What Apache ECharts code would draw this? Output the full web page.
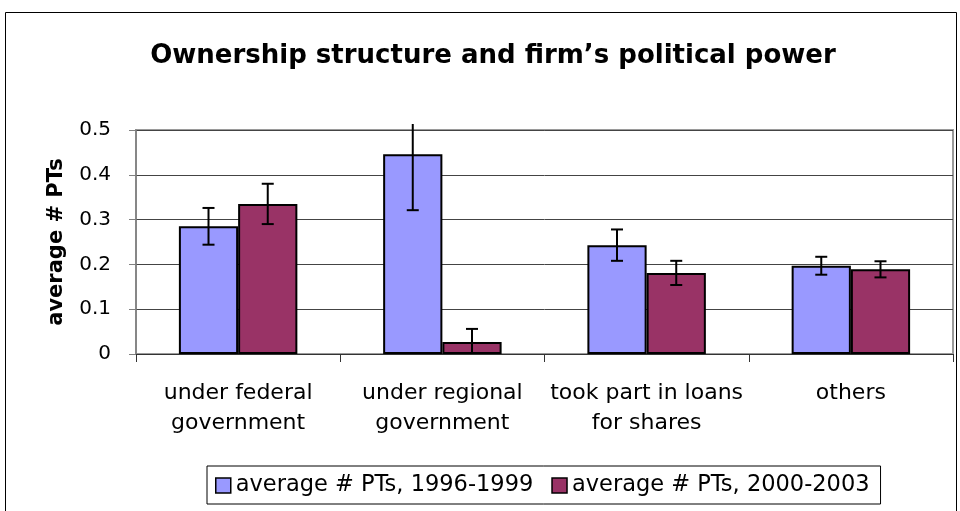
<!DOCTYPE html>
<html>
<head>
<meta charset="utf-8">
<script src="https://cdn.jsdelivr.net/npm/echarts@6/dist/echarts.min.js"></script>
<style>
html,body{margin:0;padding:0;background:#fff;}
#c{width:960px;height:511px;}
</style>
</head>
<body>
<div id="c"></div>
<script>
var categories = ['under federal\ngovernment', 'under regional\ngovernment', 'took part in loans\nfor shares', 'others'];
var seriesNames = ['average # PTs, 1996-1999', 'average # PTs, 2000-2003'];
var avg9699 = [0.285, 0.446, 0.243, 0.197];
var err9699 = [0.041, 0.125, 0.035, 0.020];
var avg0003 = [0.335, 0.027, 0.181, 0.189];
var err0003 = [0.045, 0.029, 0.027, 0.018];
var yTicks = [0, 0.1, 0.2, 0.3, 0.4, 0.5];

var FONT = 'DejaVu Sans';
var CAT_GAP = 0.42;
var Y_MIN = 0, Y_MAX = 0.5;

function errData(avg, err) {
  return avg.map(function (v, i) { return [i, v - err[i], v + err[i]]; });
}

function makeErr(seriesIndex) {
  return function (params, api) {
    var idx = api.value(0);
    var lo = api.value(1), hi = api.value(2);
    var bandW = api.size([1, 0])[0];
    var barW = bandW * (1 - CAT_GAP) / 2;
    var center = api.coord([idx, 0])[0];
    var x = seriesIndex === 0 ? center - barW / 2 : center + barW / 2;
    var loC = Math.max(lo, Y_MIN), hiC = Math.min(hi, Y_MAX);
    var yLo = api.coord([idx, loC])[1];
    var yHi = api.coord([idx, hiC])[1];
    if (hi > Y_MAX) { yHi -= 6; }
    var cap = 6;
    var style = { stroke: '#000', lineWidth: 2 };
    var children = [
      { type: 'line', shape: { x1: x, y1: yLo, x2: x, y2: yHi }, style: style }
    ];
    if (hi <= Y_MAX) children.push({ type: 'line', shape: { x1: x - cap, y1: yHi, x2: x + cap, y2: yHi }, style: style });
    if (lo >= Y_MIN) children.push({ type: 'line', shape: { x1: x - cap, y1: yLo, x2: x + cap, y2: yLo }, style: style });
    return { type: 'group', children: children };
  };
}

var chart = echarts.init(document.getElementById('c'), null, { renderer: 'canvas' });
chart.setOption({
  animation: false,
  backgroundColor: '#fff',
  textStyle: { fontFamily: FONT },
  title: {
    text: 'Ownership structure and firm\u2019s political power',
    left: 488, top: 38, textAlign: 'center',
    textStyle: { fontFamily: FONT, fontWeight: 'bold', fontSize: 26, color: '#000' }
  },
  graphic: [{
    type: 'rect', z: -1, silent: true,
    shape: { x: 5.5, y: 12.5, width: 951, height: 520 },
    style: { fill: 'none', stroke: '#000', lineWidth: 1 }
  }],
  legend: {
    data: seriesNames,
    left: 207, top: 466,
    orient: 'horizontal',
    padding: [8, 11, 7, 8],
    itemGap: 18,
    itemWidth: 15, itemHeight: 15,
    borderColor: '#000', borderWidth: 1,
    icon: 'rect',
    textStyle: { fontFamily: FONT, fontSize: 22.5, color: '#000' },
    itemStyle: { borderColor: '#000', borderWidth: 1.5 }
  },
  grid: {
    left: 136, right: 7, top: 130, bottom: 157,
    show: true, borderColor: '#9a9a9a', borderWidth: 2, backgroundColor: 'transparent'
  },
  xAxis: {
    type: 'category',
    data: categories,
    axisLine: { lineStyle: { color: '#333', width: 1 } },
    axisTick: { show: true, length: 8, lineStyle: { color: '#333' } },
    axisLabel: { fontFamily: FONT, fontSize: 22, color: '#000', lineHeight: 30, margin: 24, interval: 0 }
  },
  yAxis: {
    type: 'value',
    min: Y_MIN, max: Y_MAX, interval: 0.1,
    name: 'average # PTs',
    nameLocation: 'middle', nameGap: 69, nameRotate: 90,
    nameTextStyle: { fontFamily: FONT, fontWeight: 'bold', fontSize: 21, color: '#000' },
    axisLine: { show: true, lineStyle: { color: '#808080', width: 1.5 } },
    axisTick: { show: true, length: 7, lineStyle: { color: '#808080' } },
    axisLabel: {
      fontFamily: FONT, fontSize: 20, color: '#000', margin: 25,
      formatter: function (v) {
        var t = yTicks.filter(function (k) { return Math.abs(k - v) < 1e-9; });
        return t.length ? String(t[0]) : '';
      }
    },
    splitLine: { show: true, lineStyle: { color: '#444', width: 1 } }
  },
  series: [
    {
      name: seriesNames[0], type: 'bar', data: avg9699,
      barGap: '0%', barCategoryGap: (CAT_GAP * 100) + '%',
      itemStyle: { color: '#9999FF', borderColor: '#000', borderWidth: 2 }
    },
    {
      name: seriesNames[1], type: 'bar', data: avg0003,
      barGap: '0%', barCategoryGap: (CAT_GAP * 100) + '%',
      itemStyle: { color: '#993366', borderColor: '#000', borderWidth: 2 }
    },
    {
      type: 'custom', renderItem: makeErr(0), data: errData(avg9699, err9699),
      encode: { x: 0, y: [1, 2] }, z: 5, clip: false, silent: true
    },
    {
      type: 'custom', renderItem: makeErr(1), data: errData(avg0003, err0003),
      encode: { x: 0, y: [1, 2] }, z: 5, clip: false, silent: true
    }
  ]
});
</script>
</body>
</html>
